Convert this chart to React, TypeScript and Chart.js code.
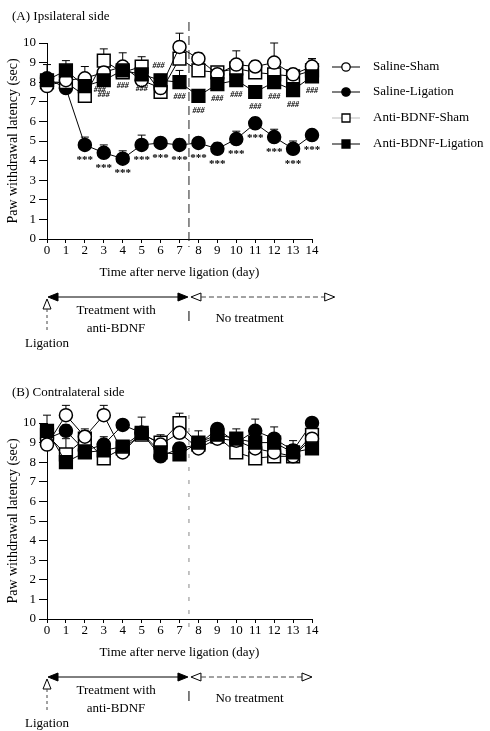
import React, { useEffect, useRef } from "react";
import { Chart, registerables } from "chart.js";

Chart.register(...registerables);

const FONT = "'Liberation Serif', 'Times New Roman', serif";

// ---------- data ----------
const days = [0, 1, 2, 3, 4, 5, 6, 7, 8, 9, 10, 11, 12, 13, 14];
const seriesNames = ["Saline-Sham", "Saline-Ligation", "Anti-BDNF-Sham", "Anti-BDNF-Ligation"];

// (A) Ipsilateral side
const ipsiSalineSham = [7.8, 8.1, 8.2, 8.5, 8.8, 8.1, 7.7, 9.8, 9.2, 8.4, 8.9, 8.8, 9.0, 8.4, 8.8];
const ipsiSalineLig = [8.2, 7.7, 4.8, 4.4, 4.1, 4.8, 4.9, 4.8, 4.9, 4.6, 5.1, 5.9, 5.2, 4.6, 5.3];
const ipsiAntiSham = [8.0, 8.0, 7.3, 9.1, 8.5, 8.8, 7.5, 9.2, 8.6, 8.5, 8.7, 8.5, 8.4, 8.3, 8.6];
const ipsiAntiLig = [8.1, 8.6, 7.8, 8.1, 8.6, 8.4, 8.1, 8.0, 7.3, 7.9, 8.1, 7.5, 8.0, 7.6, 8.3];

const ipsiErrSalineSham = [0.3, 0.3, 0.6, 0.4, 0.7, 0.4, 0.3, 0.7, 0.3, 0.3, 0.7, 0.3, 1.0, 0.3, 0.4];
const ipsiErrSalineLig = [0.7, 0.3, 0.4, 0.4, 0.4, 0.5, 0.2, 0.3, 0.2, 0.3, 0.4, 0.3, 0.4, 0.4, 0.2];
const ipsiErrAntiSham = [0.3, 0.3, 0.3, 0.6, 0.3, 0.5, 0.3, 0.3, 0.3, 0.3, 0.3, 0.3, 0.3, 0.3, 0.6];
const ipsiErrAntiLig = [0.3, 0.5, 0.3, 0.3, 0.3, 0.3, 0.3, 0.6, 0.3, 0.3, 0.3, 0.3, 0.3, 0.3, 0.3];

const ipsiSigSalineLig = ["", "", "***", "***", "***", "***", "***", "***", "***", "***", "***", "***", "***", "***", "***"];
const ipsiSigAntiLig = ["", "", "###", "###", "###", "###", "###", "###", "###", "###", "###", "###", "###", "###", "###"];

// (B) Contralateral side
const contraSalineSham = [8.9, 10.4, 9.3, 10.4, 8.5, 9.5, 8.9, 9.5, 8.7, 9.2, 9.1, 8.7, 8.5, 8.3, 9.2];
const contraSalineLig = [9.2, 9.6, 8.6, 8.9, 9.9, 9.5, 8.3, 8.7, 8.9, 9.7, 9.0, 9.6, 9.2, 8.6, 10.0];
const contraAntiSham = [9.4, 8.4, 9.2, 8.2, 8.7, 9.4, 9.0, 10.0, 8.9, 9.3, 8.5, 8.2, 8.3, 8.3, 9.4];
const contraAntiLig = [9.6, 8.0, 8.5, 8.6, 8.8, 9.5, 8.5, 8.4, 9.0, 9.4, 9.2, 9.0, 9.0, 8.5, 8.7];

const contraErrSalineSham = [0.3, 0.5, 0.3, 0.5, 0.3, 0.3, 0.3, 0.3, 0.3, 0.3, 0.3, 0.3, 0.3, 0.3, 0.3];
const contraErrSalineLig = [0.3, 0.3, 0.3, 0.4, 0.2, 0.8, 0.3, 0.3, 0.3, 0.2, 0.3, 0.6, 0.6, 0.3, 0.2];
const contraErrAntiSham = [0.3, 0.8, 0.5, 0.3, 0.3, 0.3, 0.4, 0.5, 0.7, 0.3, 0.3, 0.3, 0.3, 0.3, 0.3];
const contraErrAntiLig = [0.8, 0.3, 0.3, 0.3, 0.3, 0.3, 0.3, 0.3, 0.3, 0.3, 0.5, 0.3, 0.3, 0.6, 0.3];

const yTicks = [0, 1, 2, 3, 4, 5, 6, 7, 8, 9, 10];

// ---------- styles ----------
const markerStyles = [
  { fill: "#fff", style: "circle", r: 6.5 },
  { fill: "#000", style: "circle", r: 6.5 },
  { fill: "#fff", style: "rect", r: 9 },
  { fill: "#000", style: "rect", r: 9 },
];
const drawOrder = [1, 3, 2, 0];

function makeDatasets(values: number[][], errs: number[][], sigs: (string[] | null)[]) {
  return values.map((vals, k) => ({
    label: seriesNames[k],
    data: vals.map((v, i) => ({ x: days[i], y: v })),
    errors: errs[k],
    sig: sigs[k],
    borderColor: "#000",
    borderWidth: 1,
    pointStyle: markerStyles[k].style,
    pointRadius: markerStyles[k].r,
    pointBackgroundColor: markerStyles[k].fill,
    pointBorderColor: "#000",
    pointBorderWidth: 1.5,
    showLine: true,
    tension: 0,
    clip: false,
    order: drawOrder[k],
  }));
}

// ---------- plugins ----------
const errorBarPlugin = {
  id: "errorBars",
  beforeDatasetsDraw(chart: any) {
    const ctx = chart.ctx;
    const ys = chart.scales.y;
    chart.data.datasets.forEach((ds: any, i: number) => {
      if (!ds.errors) return;
      const meta = chart.getDatasetMeta(i);
      ctx.save();
      ctx.strokeStyle = "#000";
      ctx.lineWidth = 1;
      meta.data.forEach((pt: any, j: number) => {
        const e = ds.errors[j];
        if (!e) return;
        const v = ds.data[j].y;
        const y1 = ys.getPixelForValue(v + e);
        ctx.beginPath();
        ctx.moveTo(pt.x, pt.y);
        ctx.lineTo(pt.x, y1);
        ctx.moveTo(pt.x - 4, y1);
        ctx.lineTo(pt.x + 4, y1);
        ctx.stroke();
      });
      ctx.restore();
    });
  },
};

const sigPlugin = {
  id: "sigMarks",
  afterDatasetsDraw(chart: any) {
    const ctx = chart.ctx;
    chart.data.datasets.forEach((ds: any, i: number) => {
      if (!ds.sig) return;
      const meta = chart.getDatasetMeta(i);
      meta.data.forEach((pt: any, j: number) => {
        const s = ds.sig[j];
        if (!s) return;
        ctx.save();
        ctx.fillStyle = "#000";
        ctx.textAlign = "center";
        ctx.textBaseline = "middle";
        if (s === "***") {
          ctx.font = `bold 11px ${FONT}`;
          ctx.fillText(s, pt.x, pt.y + 15);
        } else {
          ctx.font = `italic bold 8px ${FONT}`;
          let dx = 0, dy = 15;
          if (j === 2) { dx = 15; dy = 4; }
          if (j === 6) { dx = -2; dy = -14; }
          ctx.fillText(s, pt.x + dx, pt.y + dy);
        }
        ctx.restore();
      });
    });
  },
};

function triangle(ctx: any, pts: number[][], fill: string) {
  ctx.beginPath();
  ctx.moveTo(pts[0][0], pts[0][1]);
  ctx.lineTo(pts[1][0], pts[1][1]);
  ctx.lineTo(pts[2][0], pts[2][1]);
  ctx.closePath();
  ctx.fillStyle = fill;
  ctx.fill();
  ctx.lineWidth = 1;
  ctx.strokeStyle = "#000";
  ctx.stroke();
}

const decoPlugin = {
  id: "deco",
  afterDraw(chart: any, _args: any, opts: any) {
    const ctx = chart.ctx;
    const xs = chart.scales.x;
    const { top: T, bottom: B } = chart.chartArea;
    ctx.save();
    // panel title
    ctx.fillStyle = "#000";
    ctx.font = `13px ${FONT}`;
    ctx.textAlign = "left";
    ctx.textBaseline = "middle";
    ctx.fillText(opts.title, 12, opts.titleY);

    // vertical dashed separator
    const xm = xs.getPixelForValue(7.5);
    ctx.strokeStyle = opts.dashColor;
    ctx.lineWidth = 1;
    ctx.setLineDash(opts.dash);
    ctx.beginPath();
    ctx.moveTo(xm, T - opts.dashAbove);
    ctx.lineTo(xm, B + 8);
    ctx.stroke();
    ctx.setLineDash([]);
    ctx.strokeStyle = "#000";
    ctx.beginPath();
    ctx.moveTo(xm, B + 72);
    ctx.lineTo(xm, B + 82);
    ctx.stroke();

    // treatment arrow
    const ya = B + 58;
    const x0 = xs.getPixelForValue(0) + 1;
    const xe = xs.getPixelForValue(opts.arrowEnd);
    ctx.beginPath();
    ctx.moveTo(x0 + 8, ya);
    ctx.lineTo(xm - 8, ya);
    ctx.stroke();
    triangle(ctx, [[x0, ya], [x0 + 10, ya - 4], [x0 + 10, ya + 4]], "#000");
    triangle(ctx, [[xm - 1, ya], [xm - 11, ya - 4], [xm - 11, ya + 4]], "#000");
    triangle(ctx, [[xm + 2, ya], [xm + 12, ya - 4], [xm + 12, ya + 4]], "#fff");
    ctx.setLineDash([5, 3]);
    ctx.strokeStyle = "#444";
    ctx.beginPath();
    ctx.moveTo(xm + 12, ya);
    ctx.lineTo(xe - 10, ya);
    ctx.stroke();
    ctx.setLineDash([]);
    triangle(ctx, [[xe, ya], [xe - 10, ya - 4], [xe - 10, ya + 4]], "#fff");

    // ligation marker
    const xl = x0 - 1;
    triangle(ctx, [[xl, B + 60], [xl - 4, B + 70], [xl + 4, B + 70]], "#fff");
    ctx.setLineDash([3, 3]);
    ctx.strokeStyle = "#444";
    ctx.beginPath();
    ctx.moveTo(xl, B + 70);
    ctx.lineTo(xl, B + 94);
    ctx.stroke();
    ctx.setLineDash([]);

    ctx.fillStyle = "#000";
    ctx.font = `13px ${FONT}`;
    ctx.textAlign = "center";
    ctx.fillText("Ligation", xl, B + 105);
    const xt = xs.getPixelForValue(3.65);
    ctx.fillText("Treatment with", xt, B + 72);
    ctx.fillText("anti-BDNF", xt, B + 90);
    ctx.fillText("No treatment", xs.getPixelForValue(10.7), B + 80);

    // legend
    if (opts.legend) {
      const ly = [67, 92, 118, 144];
      seriesNames.forEach((name, k) => {
        const y = ly[k];
        ctx.strokeStyle = k === 2 ? "#bbb" : "#000";
        ctx.lineWidth = 1;
        ctx.beginPath();
        ctx.moveTo(332, y);
        ctx.lineTo(360, y);
        ctx.stroke();
        ctx.fillStyle = markerStyles[k].fill;
        ctx.strokeStyle = "#000";
        ctx.lineWidth = 1.3;
        ctx.beginPath();
        if (markerStyles[k].style === "circle") ctx.arc(346, y, 4.2, 0, Math.PI * 2);
        else ctx.rect(342, y - 4, 8, 8);
        ctx.fill();
        ctx.stroke();
        ctx.fillStyle = "#000";
        ctx.font = `13px ${FONT}`;
        ctx.textAlign = "left";
        ctx.textBaseline = "middle";
        ctx.fillText(name, 373, y);
      });
    }
    ctx.restore();
  },
};

function makeConfig(datasets: any[], chartTop: number, chartBottom: number, height: number, deco: any) {
  const axisFont = { family: FONT, size: 13 };
  return {
    type: "line",
    data: { datasets },
    plugins: [errorBarPlugin, sigPlugin, decoPlugin],
    options: {
      animation: false,
      responsive: false,
      devicePixelRatio: 1,
      layout: { padding: { top: chartTop, left: 0, right: 490 - 312, bottom: height - chartBottom - 45 } },
      plugins: { legend: { display: false }, tooltip: { enabled: false }, deco },
      scales: {
        x: {
          type: "linear",
          min: 0,
          max: 14,
          afterBuildTicks: (s: any) => { s.ticks = days.map((d) => ({ value: d })); },
          ticks: { color: "#000", font: axisFont, padding: 0, maxRotation: 0, autoSkip: false },
          grid: { drawOnChartArea: false, tickLength: 4, color: "#000" },
          border: { color: "#000", width: 1 },
          title: { display: true, text: "Time after nerve ligation (day)", color: "#000", font: axisFont, padding: { top: 4, bottom: 4 } },
          afterFit: (s: any) => { s.height = 45; },
        },
        y: {
          min: 0,
          max: 10,
          afterBuildTicks: (s: any) => { s.ticks = yTicks.map((v) => ({ value: v })); },
          ticks: { color: "#000", font: axisFont, padding: 3 },
          grid: { drawOnChartArea: false, tickLength: 8, color: "#000" },
          border: { color: "#000", width: 1 },
          title: { display: true, text: "Paw withdrawal latency (sec)", color: "#000", font: { family: FONT, size: 14 }, padding: { top: 5, bottom: 4 } },
          afterFit: (s: any) => { s.width = 47; },
        },
      },
    },
  };
}

export default function App() {
  const refA = useRef<HTMLCanvasElement>(null);
  const refB = useRef<HTMLCanvasElement>(null);

  useEffect(() => {
    const dsA = makeDatasets(
      [ipsiSalineSham, ipsiSalineLig, ipsiAntiSham, ipsiAntiLig],
      [ipsiErrSalineSham, ipsiErrSalineLig, ipsiErrAntiSham, ipsiErrAntiLig],
      [null, ipsiSigSalineLig, null, ipsiSigAntiLig]
    );
    const dsB = makeDatasets(
      [contraSalineSham, contraSalineLig, contraAntiSham, contraAntiLig],
      [contraErrSalineSham, contraErrSalineLig, contraErrAntiSham, contraErrAntiLig],
      [null, null, null, null]
    );
    const chartA = new Chart(
      refA.current as HTMLCanvasElement,
      makeConfig(dsA, 43, 239, 365, {
        title: "(A) Ipsilateral side", titleY: 17, legend: true, arrowEnd: 15.2,
        dash: [9, 5], dashColor: "#222", dashAbove: 21,
      }) as any
    );
    const chartB = new Chart(
      refB.current as HTMLCanvasElement,
      makeConfig(dsB, 58, 254, 366, {
        title: "(B) Contralateral side", titleY: 28, legend: false, arrowEnd: 14,
        dash: [4, 9], dashColor: "#888", dashAbove: 8,
      }) as any
    );
    return () => {
      chartA.destroy();
      chartB.destroy();
    };
  }, []);

  return (
    <div style={{ position: "absolute", left: 0, top: 0, width: 490, height: 731, background: "#fff" }}>
      <canvas ref={refA} width={490} height={365} style={{ position: "absolute", left: 0, top: 0, width: 490, height: 365 }} />
      <canvas ref={refB} width={490} height={366} style={{ position: "absolute", left: 0, top: 365, width: 490, height: 366 }} />
    </div>
  );
}
